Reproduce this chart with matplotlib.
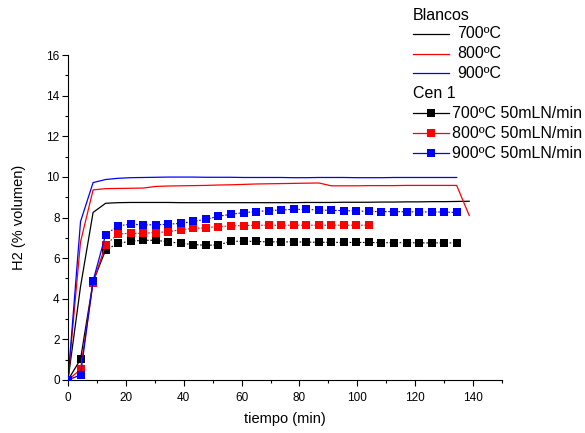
import matplotlib
matplotlib.use("Agg")
import matplotlib.pyplot as plt
from matplotlib.lines import Line2D
from matplotlib.ticker import MultipleLocator

plt.rcParams['font.family'] = ['Liberation Sans', 'DejaVu Sans']

# time (min)
t_blancos = [0, 4.33, 8.67, 13, 17.33, 21.67, 26, 30.33, 34.67, 39, 43.33, 47.67, 52,
             56.33, 60.67, 65, 69.33, 73.67, 78, 82.33, 86.67, 91, 95.33, 99.67, 104,
             108.33, 112.67, 117, 121.33, 125.67, 130, 134.33, 138.67]

blanco_700 = [0, 4.6, 8.25, 8.7, 8.73, 8.74, 8.74, 8.74, 8.74, 8.73, 8.73, 8.73, 8.73,
              8.73, 8.73, 8.73, 8.73, 8.73, 8.73, 8.74, 8.74, 8.74, 8.75, 8.75, 8.75,
              8.76, 8.76, 8.77, 8.77, 8.78, 8.78, 8.79, 8.8]
blanco_800 = [0, 6.8, 9.36, 9.42, 9.43, 9.44, 9.45, 9.53, 9.55, 9.56, 9.57, 9.58, 9.6,
              9.61, 9.63, 9.65, 9.66, 9.67, 9.68, 9.69, 9.7, 9.56, 9.56, 9.56, 9.57,
              9.57, 9.57, 9.58, 9.58, 9.58, 9.58, 9.58, 8.1]
blanco_900 = [0, 7.8, 9.72, 9.87, 9.93, 9.96, 9.97, 9.98, 9.99, 9.99, 9.99, 9.98, 9.98,
              9.98, 9.97, 9.97, 9.97, 9.97, 9.96, 9.96, 9.97, 9.97, 9.97, 9.96, 9.96,
              9.96, 9.97, 9.97, 9.97, 9.97, 9.97, 9.97]

cen_700 = [0, 1.02, 4.84, 6.4, 6.73, 6.83, 6.88, 6.88, 6.8, 6.73, 6.67, 6.63, 6.65,
           6.83, 6.83, 6.82, 6.8, 6.8, 6.8, 6.79, 6.78, 6.78, 6.77, 6.77, 6.77, 6.76,
           6.76, 6.76, 6.75, 6.75, 6.75, 6.75]
cen_800 = [0, 0.52, 4.8, 6.65, 7.19, 7.22, 7.22, 7.26, 7.3, 7.4, 7.46, 7.5, 7.55, 7.59,
           7.6, 7.62, 7.62, 7.62, 7.62, 7.62, 7.62, 7.62, 7.62, 7.62, 7.62]
cen_900 = [0, 0.25, 4.88, 7.16, 7.59, 7.67, 7.64, 7.64, 7.67, 7.71, 7.81, 7.91, 8.06,
           8.16, 8.24, 8.29, 8.34, 8.37, 8.4, 8.4, 8.37, 8.35, 8.34, 8.32, 8.3, 8.29,
           8.29, 8.28, 8.28, 8.27, 8.27, 8.25]

colors = ['#000000', '#ff0000', '#0000ff']
blanco_labels = ['700ºC', '800ºC', '900ºC']
cen_labels = ['700ºC 50mLN/min', '800ºC 50mLN/min', '900ºC 50mLN/min']

W, H = 585, 433
fig = plt.figure(figsize=(W / 100, H / 100), dpi=100)
ax = fig.add_axes([68 / W, 1 - 380 / H, (502 - 68) / W, (380 - 55) / H])

for ys, c in zip([blanco_700, blanco_800, blanco_900], colors):
    ax.plot(t_blancos[:len(ys)], ys, color=c, lw=0.9, zorder=2)

for k, (ys, c) in enumerate(zip([cen_700, cen_800, cen_900], colors)):
    tt = t_blancos[:len(ys)]
    # long early segments render as solid, later short ones as dotted
    ax.plot(tt[:4], ys[:4], color=c, lw=0.9, zorder=3 + k)
    ax.plot(tt[3:], ys[3:], color=c, lw=0.8, linestyle=(0, (1.5, 1.5)), zorder=3 + k)
    ax.plot(tt, ys, color=c, lw=0, marker='s', markersize=5.5,
            markeredgewidth=0, zorder=3 + k)

ax.set_xlim(0, 150)
ax.set_ylim(0, 16)
ax.xaxis.set_major_locator(MultipleLocator(20))
ax.xaxis.set_minor_locator(MultipleLocator(10))
ax.yaxis.set_major_locator(MultipleLocator(2))
ax.yaxis.set_minor_locator(MultipleLocator(1))
ax.tick_params(which='major', direction='out', length=4, width=0.8, labelsize=8.5)
ax.tick_params(axis='x', which='major', pad=4.5)
ax.tick_params(axis='y', which='major', pad=2)
ax.tick_params(which='minor', direction='out', length=2.2, width=0.8)
for s in ['top', 'right']:
    ax.spines[s].set_visible(False)
for s in ['left', 'bottom']:
    ax.spines[s].set_linewidth(0.8)
ax.set_xlabel('tiempo (min)', fontsize=10.5, labelpad=6)
ax.set_ylabel('H2 (% volumen)', fontsize=10.5, labelpad=15)

# manual legend (figure pixel coordinates)
def fx(x):
    return x / W

def fy(y):
    return 1 - y / H

fs = 11.5
fig.text(fx(413), fy(15), 'Blancos', fontsize=fs, va='center', ha='left')
for i, (lab, c) in enumerate(zip(blanco_labels, colors)):
    y = 34 + 19.5 * i
    fig.add_artist(Line2D([fx(413), fx(449)], [fy(y), fy(y)], color=c, lw=0.9,
                          transform=fig.transFigure))
    fig.text(fx(457), fy(y), lab, fontsize=fs, va='center', ha='left')
fig.text(fx(413), fy(93), 'Cen 1', fontsize=fs, va='center', ha='left')
for i, (lab, c) in enumerate(zip(cen_labels, colors)):
    y = 113 + 20 * i
    fig.add_artist(Line2D([fx(413), fx(449)], [fy(y), fy(y)], color=c, lw=0.9,
                          transform=fig.transFigure))
    fig.add_artist(Line2D([fx(431)], [fy(y)], color=c, marker='s', markersize=5.5,
                          markeredgewidth=0, transform=fig.transFigure))
    fig.text(fx(452), fy(y), lab, fontsize=fs, va='center', ha='left')

fig.savefig('out.png', dpi=100)
